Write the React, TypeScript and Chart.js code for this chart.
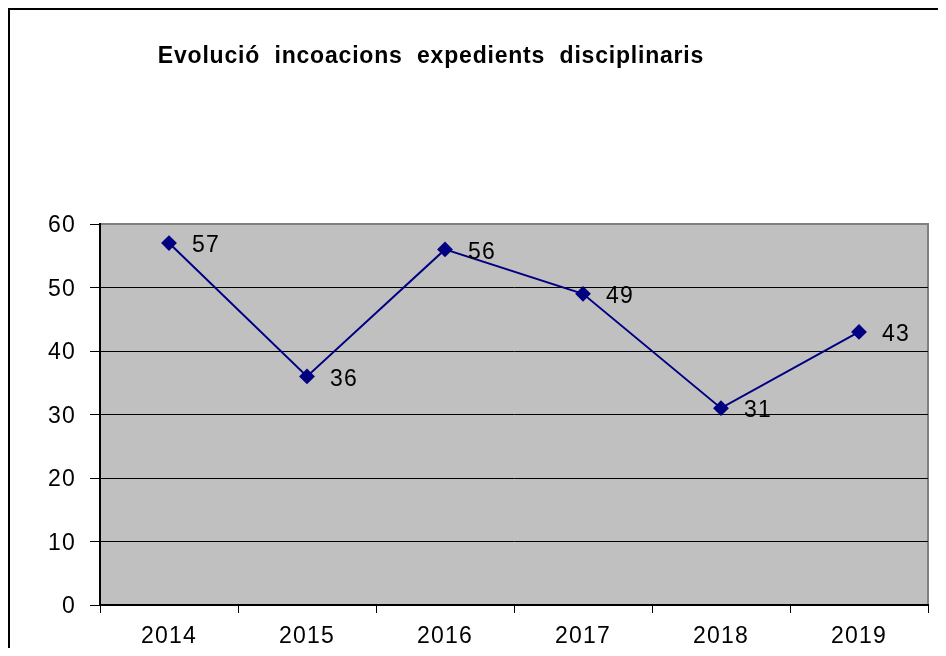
import React, { useEffect, useRef } from "react";
import { Chart, registerables } from "chart.js";

Chart.register(...registerables);

const TITLE = "Evolució  incoacions  expedients  disciplinaris";
const YEARS = ["2014", "2015", "2016", "2017", "2018", "2019"];
const VALUES = [57, 36, 56, 49, 31, 43];
const Y_MIN = 0;
const Y_MAX = 60;
const Y_STEP = 10;

const FONT = '"Liberation Sans", Arial, sans-serif';
const LINE_COLOR = "#000080";

const spacingPlugin = {
  id: "spacingPlugin",
  beforeInit(chart: any) {
    chart.ctx.letterSpacing = "1.2px";
  },
  beforeUpdate(chart: any) {
    chart.ctx.letterSpacing = "1.2px";
  },
  beforeDraw(chart: any) {
    chart.ctx.letterSpacing = "1.2px";
  },
};

const bgPlugin = {
  id: "bgPlugin",
  beforeDraw(chart: any) {
    const { ctx, chartArea } = chart;
    const { left, top, right, bottom } = chartArea;
    ctx.save();
    ctx.fillStyle = "#C0C0C0";
    ctx.fillRect(left, top, right - left, bottom - top);
    ctx.strokeStyle = "#808080";
    ctx.lineWidth = 2;
    ctx.beginPath();
    ctx.moveTo(left, top);
    ctx.lineTo(right, top);
    ctx.lineTo(right, bottom);
    ctx.stroke();
    ctx.restore();
  },
};

const titlePlugin = {
  id: "titlePlugin",
  afterDraw(chart: any) {
    const { ctx } = chart;
    ctx.save();
    ctx.letterSpacing = "0.8px";
    ctx.font = `bold 23px ${FONT}`;
    ctx.fillStyle = "#000";
    ctx.textAlign = "center";
    ctx.textBaseline = "middle";
    ctx.fillText(TITLE, 421, 47);
    ctx.restore();
  },
};

const labelPlugin = {
  id: "labelPlugin",
  afterDatasetsDraw(chart: any) {
    const { ctx } = chart;
    const meta = chart.getDatasetMeta(0);
    ctx.save();
    ctx.letterSpacing = "1.2px";
    ctx.font = `23px ${FONT}`;
    ctx.fillStyle = "#000";
    ctx.textAlign = "left";
    ctx.textBaseline = "middle";
    meta.data.forEach((pt: any, i: number) => {
      ctx.fillText(String(VALUES[i]), pt.x + 23, pt.y + 3);
    });
    ctx.restore();
  },
};

export default function App() {
  const ref = useRef<HTMLCanvasElement | null>(null);
  useEffect(() => {
    if (!ref.current) return;
    const chart = new Chart(ref.current, {
      type: "line",
      data: {
        labels: YEARS,
        datasets: [
          {
            data: VALUES,
            borderColor: LINE_COLOR,
            backgroundColor: LINE_COLOR,
            borderWidth: 2,
            pointStyle: "rectRot",
            pointRadius: 6.5,
            pointHoverRadius: 6.5,
            pointBackgroundColor: LINE_COLOR,
            pointBorderColor: LINE_COLOR,
            tension: 0,
          },
        ],
      },
      options: {
        responsive: false,
        animation: false,
        events: [],
        layout: { padding: { top: 214, right: 18, left: 0, bottom: 0 } },
        plugins: {
          legend: { display: false },
          title: { display: false },
          tooltip: { enabled: false },
        },
        scales: {
          x: {
            type: "category",
            offset: true,
            grid: {
              offset: true,
              drawOnChartArea: false,
              drawTicks: true,
              tickLength: 8,
              color: "#000",
              tickColor: "#000",
            },
            border: { color: "#000", width: 2 },
            ticks: {
              color: "#000",
              font: { family: FONT, size: 23 },
              padding: 10,
              maxRotation: 0,
            },
            afterFit(scale: any) {
              scale.height = 43;
            },
          },
          y: {
            min: Y_MIN,
            max: Y_MAX,
            grid: {
              color: (c: any) => (c.tick && c.tick.value === Y_MAX ? "#808080" : "#000"),
              tickColor: "#000",
              tickLength: 10,
              lineWidth: 1,
            },
            border: { color: "#000", width: 2 },
            ticks: {
              stepSize: Y_STEP,
              color: "#000",
              font: { family: FONT, size: 23 },
              padding: 14,
              labelOffset: 2,
            },
            afterFit(scale: any) {
              scale.width = 90;
            },
          },
        },
      },
      plugins: [spacingPlugin, bgPlugin, labelPlugin, titlePlugin],
    });
    return () => chart.destroy();
  }, []);
  return (
    <div
      style={{
        borderTop: "2px solid #000",
        borderLeft: "2px solid #000",
        width: 936,
        height: 638,
        background: "#fff",
      }}
    >
      <canvas ref={ref} width={936} height={638} style={{ display: "block" }} />
    </div>
  );
}
